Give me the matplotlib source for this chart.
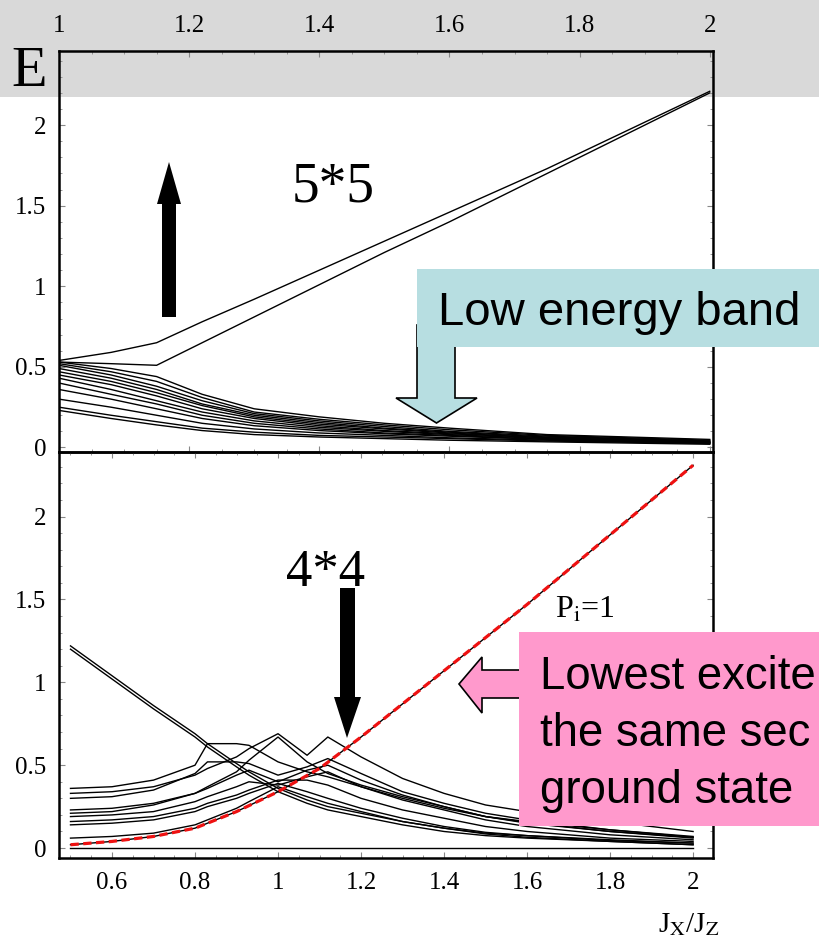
import matplotlib
matplotlib.use("Agg")
import matplotlib.pyplot as plt
from matplotlib.patches import Polygon, Rectangle
from matplotlib.ticker import MultipleLocator, FuncFormatter

plt.rcParams['font.family'] = 'Liberation Serif'
plt.rcParams['mathtext.fontset'] = 'stix'

# ----------------- data -----------------

# 5*5 lattice, Jx/Jz from 1 to 2
jx5 = [1.0, 1.08, 1.15, 1.22, 1.3, 1.4, 1.5, 1.6, 1.75, 2.0]
# the two levels that climb out of the band
rise5_a = [0.54, 0.59, 0.65, 0.78, 0.92, 1.10, 1.28, 1.46, 1.73, 2.21]
rise5_b = [0.53, 0.52, 0.51, 0.65, 0.81, 1.01, 1.21, 1.40, 1.70, 2.20]
# the low energy band
band5 = [
    [0.53, 0.49, 0.44, 0.33, 0.24, 0.19, 0.15, 0.12, 0.08, 0.05],
    [0.52, 0.47, 0.41, 0.31, 0.22, 0.175, 0.14, 0.11, 0.075, 0.045],
    [0.51, 0.45, 0.38, 0.29, 0.21, 0.165, 0.13, 0.10, 0.07, 0.04],
    [0.49, 0.43, 0.36, 0.27, 0.20, 0.155, 0.12, 0.095, 0.065, 0.04],
    [0.47, 0.41, 0.34, 0.26, 0.19, 0.145, 0.115, 0.09, 0.06, 0.035],
    [0.45, 0.39, 0.32, 0.24, 0.18, 0.135, 0.105, 0.085, 0.06, 0.035],
    [0.43, 0.36, 0.29, 0.22, 0.165, 0.125, 0.10, 0.08, 0.055, 0.03],
    [0.40, 0.33, 0.27, 0.20, 0.15, 0.115, 0.09, 0.075, 0.05, 0.03],
    [0.36, 0.30, 0.24, 0.18, 0.135, 0.105, 0.085, 0.07, 0.05, 0.03],
    [0.30, 0.25, 0.20, 0.15, 0.115, 0.09, 0.075, 0.06, 0.045, 0.025],
    [0.25, 0.20, 0.16, 0.12, 0.095, 0.075, 0.065, 0.055, 0.04, 0.025],
    [0.23, 0.18, 0.14, 0.105, 0.08, 0.065, 0.055, 0.045, 0.035, 0.02],
]

# 4*4 lattice, Jx/Jz from 0.5 to 2
jx4 = [0.5, 0.6, 0.7, 0.8, 0.83, 0.9, 0.93, 1.0, 1.07, 1.12, 1.2, 1.3, 1.4, 1.5, 1.6, 1.8, 2.0]
levels4 = [
    [1.22, 1.04, 0.86, 0.69, 0.63, 0.51, 0.46, 0.36, 0.29, 0.25, 0.21, 0.16, 0.12, 0.09, 0.075, 0.05, 0.03],
    [1.20, 1.02, 0.84, 0.67, 0.61, 0.49, 0.44, 0.34, 0.27, 0.23, 0.19, 0.14, 0.10, 0.075, 0.06, 0.04, 0.02],
    [0.33, 0.34, 0.37, 0.44, 0.48, 0.55, 0.60, 0.69, 0.56, 0.67, 0.55, 0.42, 0.33, 0.26, 0.22, 0.16, 0.10],
    [0.21, 0.22, 0.26, 0.33, 0.37, 0.46, 0.53, 0.67, 0.52, 0.45, 0.38, 0.31, 0.25, 0.19, 0.16, 0.11, 0.07],
    [0.36, 0.37, 0.41, 0.50, 0.63, 0.63, 0.62, 0.52, 0.46, 0.43, 0.37, 0.30, 0.24, 0.19, 0.155, 0.10, 0.065],
    [0.30, 0.31, 0.35, 0.45, 0.52, 0.52, 0.51, 0.44, 0.49, 0.54, 0.45, 0.34, 0.27, 0.21, 0.17, 0.11, 0.065],
    [0.23, 0.24, 0.27, 0.33, 0.36, 0.44, 0.47, 0.40, 0.47, 0.50, 0.41, 0.32, 0.25, 0.19, 0.15, 0.10, 0.06],
    [0.19, 0.20, 0.22, 0.28, 0.31, 0.37, 0.40, 0.38, 0.43, 0.46, 0.37, 0.29, 0.23, 0.17, 0.13, 0.08, 0.05],
    [0.16, 0.17, 0.19, 0.24, 0.27, 0.32, 0.35, 0.41, 0.41, 0.38, 0.30, 0.23, 0.18, 0.13, 0.10, 0.06, 0.04],
    [0.14, 0.15, 0.17, 0.22, 0.25, 0.30, 0.33, 0.39, 0.34, 0.30, 0.24, 0.18, 0.13, 0.095, 0.075, 0.045, 0.03],
    [0.06, 0.07, 0.09, 0.14, 0.17, 0.24, 0.28, 0.37, 0.31, 0.27, 0.22, 0.16, 0.12, 0.085, 0.065, 0.04, 0.02],
    [0.0] * 17,
]
# lowest excitation in the ground state sector (P_i = 1), red dashed
jx_gs = [0.5, 0.6, 0.7, 0.8, 0.9, 1.0, 1.1, 1.2, 1.3, 1.4, 1.5, 1.6, 1.7, 1.8, 1.9, 2.0]
e_gs = [0.02, 0.04, 0.07, 0.12, 0.22, 0.34, 0.48, 0.67, 0.87, 1.07, 1.27, 1.47, 1.68, 1.89, 2.10, 2.31]

# callout texts (the slide cuts them at its right edge)
band_note = 'Low energy band'
pink_lines = ['Lowest excite', 'the same sec', 'ground state']

# ----------------- figure -----------------

W, H = 820, 942


def px(x, y):
    # pixel position (from top-left) -> figure fraction
    return (x / W, 1 - y / H)


fig = plt.figure(figsize=(W / 100, H / 100), dpi=100)

# grey title band of the slide
fig.patches.append(Rectangle(px(0, 97), 1, 97 / H, transform=fig.transFigure,
                             fc='#d9d9d9', ec='none', zorder=-5))

ax_top = fig.add_axes([59 / W, 1 - 452 / H, 654 / W, 401 / H])
ax_bot = fig.add_axes([59 / W, 1 - 858 / H, 654 / W, 406 / H])

fmt = FuncFormatter(lambda v, _: f'{v:g}')
for ax in (ax_top, ax_bot):
    ax.set_facecolor('none')
    for s in ax.spines.values():
        s.set_linewidth(1.8)
    ax.tick_params(which='both', direction='in', top=True, right=True,
                   bottom=True, left=True, color='#888888', labelsize=18)
    ax.tick_params(which='major', length=4, width=0.8)
    ax.tick_params(which='minor', length=2, width=0.6)
    ax.tick_params(axis='y', pad=9)
    ax.xaxis.set_major_locator(MultipleLocator(0.2))
    ax.xaxis.set_minor_locator(MultipleLocator(0.05))
    ax.yaxis.set_major_locator(MultipleLocator(0.5))
    ax.yaxis.set_minor_locator(MultipleLocator(0.1))
    ax.xaxis.set_major_formatter(fmt)
    ax.yaxis.set_major_formatter(fmt)

# top panel: 5*5
for row in band5:
    ax_top.plot(jx5, row, color='k', lw=1.0)
ax_top.plot(jx5, rise5_a, color='k', lw=1.0)
ax_top.plot(jx5, rise5_b, color='k', lw=1.0)
ax_top.set_xlim(1.0, 2.005)
ax_top.set_ylim(-0.028, 2.46)
ax_top.tick_params(axis='x', labeltop=True, labelbottom=False, pad=10)

# bottom panel: 4*4
for row in levels4:
    ax_bot.plot(jx4, row, color='k', lw=1.0)
ax_bot.plot(jx_gs, e_gs, color='k', lw=1.0)
ax_bot.plot(jx_gs, e_gs, color='#ee1111', lw=2.3, dashes=(2.6, 1.4))
ax_bot.set_xlim(0.4723, 2.048)
ax_bot.set_ylim(-0.06, 2.39)
ax_bot.tick_params(axis='x', pad=10)

# ----------------- labels -----------------

fig.text(*px(29, 72), 'E', fontsize=42, ha='center', va='center')
fig.text(*px(333, 188), '5*5', fontsize=40, ha='center', va='center')
fig.text(*px(326, 573), '4*4', fontsize=38, ha='center', va='center')
fig.text(*px(555, 618), r'P$_\mathrm{i}$=1', fontsize=23, ha='left', va='baseline')
fig.text(*px(689, 925), r'J$_\mathrm{X}$/J$_\mathrm{Z}$', fontsize=21, ha='center', va='center')

# black arrows
fig.patches.append(Polygon([px(162, 317), px(176, 317), px(176, 204), px(181, 204),
                            px(169, 162), px(157, 204), px(162, 204)],
                           closed=True, transform=fig.transFigure, fc='k', ec='none', zorder=4))
fig.patches.append(Polygon([px(340, 588), px(355, 588), px(355, 697), px(361, 697),
                            px(347, 738), px(334, 697), px(340, 697)],
                           closed=True, transform=fig.transFigure, fc='k', ec='none', zorder=4))

# callout: low energy band
cyan = '#b7dee1'
fig.patches.append(Polygon([px(417, 325), px(455, 325), px(455, 398), px(477, 398),
                            px(436.5, 423), px(396, 398), px(417, 398)],
                           closed=True, transform=fig.transFigure, fc=cyan, ec='k',
                           lw=1.2, zorder=5))
fig.patches.append(Rectangle(px(417, 347), (820 - 417) / W, (347 - 269) / H,
                             transform=fig.transFigure, fc=cyan, ec='none', zorder=6))
fig.text(*px(438, 325), band_note, family='Liberation Sans', fontsize=34,
         ha='left', va='baseline', zorder=7)

# callout: lowest excitation
pink = '#ff99cc'
fig.patches.append(Polygon([px(530, 670), px(482, 670), px(482, 657), px(459, 684),
                            px(482, 713), px(482, 698), px(530, 698)],
                           closed=True, transform=fig.transFigure, fc=pink, ec='k',
                           lw=1.2, zorder=5))
fig.patches.append(Rectangle(px(519, 826), (820 - 519) / W, (826 - 632) / H,
                             transform=fig.transFigure, fc=pink, ec='none', zorder=6))
for i, line in enumerate(pink_lines):
    fig.text(*px(540, 689 + 57 * i), line, family='Liberation Sans', fontsize=32.8,
             ha='left', va='baseline', zorder=7)

fig.savefig('out.png', dpi=100)
